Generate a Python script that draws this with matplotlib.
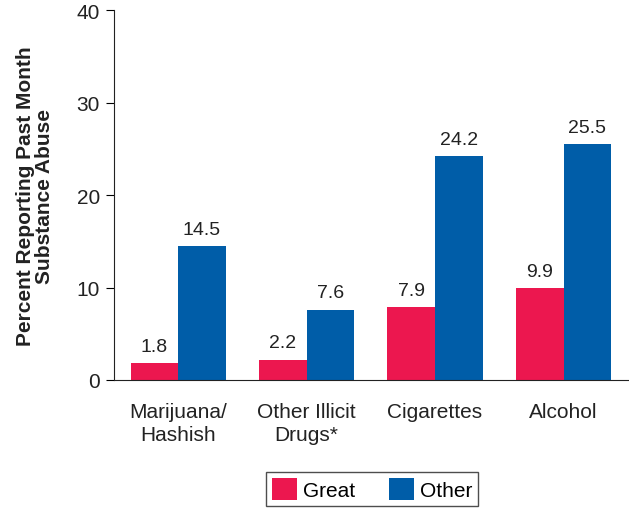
import numpy as np
import matplotlib
matplotlib.use("Agg")
from matplotlib import pyplot as plt

# data
categories = ["Marijuana/\nHashish", "Other Illicit\nDrugs*", "Cigarettes", "Alcohol"]
great = [1.8, 2.2, 7.9, 9.9]
other = [14.5, 7.6, 24.2, 25.5]
series_names = ["Great", "Other"]

plt.rcParams['font.family'] = ['Liberation Sans', 'DejaVu Sans']

fig = plt.figure(figsize=(6.29, 5.10), dpi=100)
ax = fig.add_axes([0.181, 0.253, 0.817, 0.725])

x = np.arange(len(categories))
w = 0.37
b1 = ax.bar(x - w / 2, great, w, color="#EC174F", label=series_names[0])
b2 = ax.bar(x + w / 2, other, w, color="#005DA8", label=series_names[1])

for bars, vals in [(b1, great), (b2, other)]:
    for rect, v in zip(bars, vals):
        ax.text(rect.get_x() + rect.get_width() / 2, v + 0.9, f"{v:.1f}",
                ha="center", va="bottom", fontsize=14, color="#222222")

ax.set_xlim(-0.5, 3.5)
ax.set_ylim(0, 40)
ax.set_yticks([0, 10, 20, 30, 40])
ax.set_xticks(x)
ax.set_xticklabels(categories, fontsize=15, color="#222222", linespacing=1.25)
ax.tick_params(axis="x", length=0, pad=16)
ax.tick_params(axis="y", direction="out", length=6, labelsize=15, labelcolor="#222222", pad=4)
for s in ["top", "right"]:
    ax.spines[s].set_visible(False)
ax.spines["left"].set_color("#222222")
ax.spines["bottom"].set_color("#222222")
ax.set_ylabel("Percent Reporting Past Month\nSubstance Abuse", fontsize=15,
              fontweight="bold", color="#222222", labelpad=16, linespacing=1.05)

leg = fig.legend(loc="center", bbox_to_anchor=(372 / 629, 1 - 490 / 510), ncol=2,
                 fontsize=15, frameon=True, fancybox=False, edgecolor="#222222",
                 handlelength=1.2, handleheight=1.2, handletextpad=0.3,
                 columnspacing=1.6, borderpad=0.3)
leg.get_frame().set_linewidth(1.0)

fig.savefig("out.png", dpi=100)
